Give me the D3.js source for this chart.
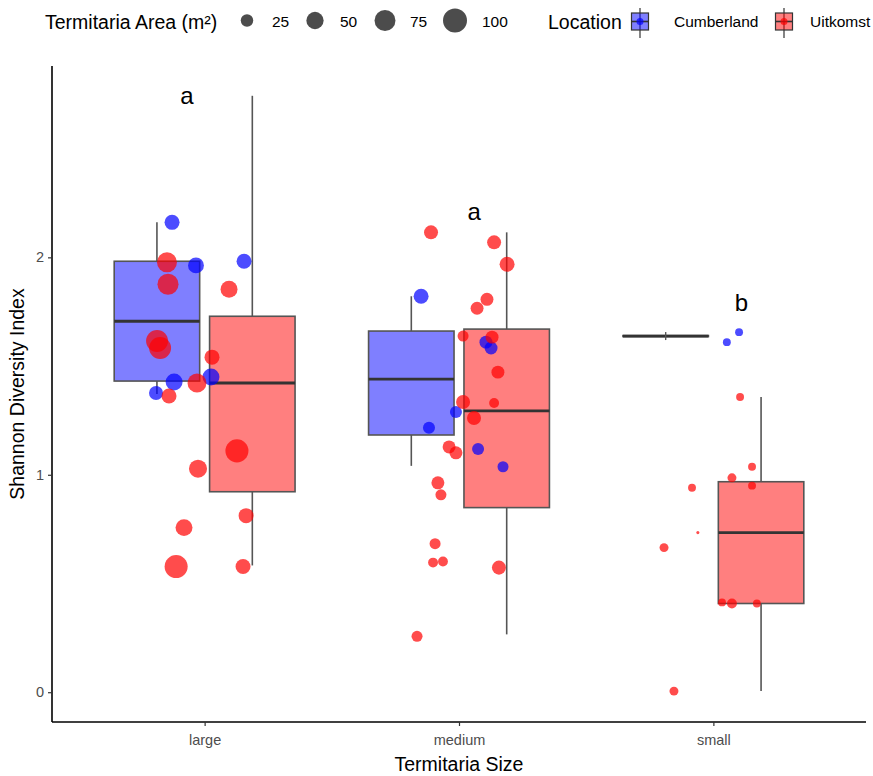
<!DOCTYPE html>
<html>
<head>
<meta charset="utf-8">
<script src="https://cdn.jsdelivr.net/npm/d3@7"></script>
<style>
  html, body { margin: 0; padding: 0; background: #fff; overflow: hidden; }
  svg { display: block; font-family: "Liberation Sans", Arial, sans-serif; }
</style>
</head>
<body>
<svg id="chart" width="873" height="776"></svg>
<script>
// Termitaria size classes and sampling locations
const categories = ["large", "medium", "small"];
const locations = ["Cumberland", "Uitkomst"];
const locationColors = ["#0000ff", "#ff0000"];

// Box summaries per location, in category order: [lower whisker, q1, median, q3, upper whisker]
const cumberlandBoxes = [
  [1.372, 1.431, 1.706, 1.982, 2.161],
  [1.041, 1.183, 1.440, 1.661, 1.821],
  [1.638, 1.638, 1.638, 1.638, 1.638]
];
const uitkomstBoxes = [
  [0.583, 0.922, 1.422, 1.729, 2.743],
  [0.266, 0.849, 1.294, 1.670, 2.115],
  [0.005, 0.408, 0.734, 0.968, 1.358]
];

// Individual termitaria: [size class, jitter (category units), Shannon index, area m²]
const cumberlandPoints = [
  ["large", -0.128, 2.161, 37], ["large", -0.034, 1.963, 42], ["large", 0.155, 1.982, 37],
  ["large", -0.120, 1.427, 48], ["large", 0.025, 1.450, 48], ["large", -0.191, 1.376, 32],
  ["medium", -0.149, 1.821, 37], ["medium", 0.106, 1.610, 27], ["medium", 0.126, 1.583, 27],
  ["medium", -0.012, 1.289, 23], ["medium", -0.118, 1.216, 23], ["medium", 0.075, 1.119, 23],
  ["medium", 0.173, 1.037, 19],
  ["small", 0.101, 1.656, 9], ["small", 0.053, 1.610, 9]
];
const uitkomstPoints = [
  ["large", -0.148, 1.977, 68], ["large", -0.144, 1.876, 76], ["large", -0.187, 1.615, 83],
  ["large", -0.175, 1.583, 83], ["large", 0.096, 1.853, 48], ["large", 0.029, 1.541, 37],
  ["large", -0.030, 1.422, 61], ["large", -0.140, 1.362, 37], ["large", 0.127, 1.110, 92],
  ["large", -0.026, 1.028, 55], ["large", 0.163, 0.812, 37], ["large", -0.081, 0.757, 48],
  ["large", -0.112, 0.578, 92], ["large", 0.151, 0.578, 37],
  ["medium", -0.110, 2.115, 32], ["medium", 0.138, 2.069, 32], ["medium", 0.189, 1.968, 37],
  ["medium", 0.110, 1.807, 27], ["medium", 0.071, 1.766, 27], ["medium", 0.016, 1.638, 19],
  ["medium", 0.130, 1.633, 27], ["medium", 0.153, 1.472, 27], ["medium", 0.016, 1.335, 32],
  ["medium", 0.138, 1.330, 15], ["medium", 0.059, 1.261, 32], ["medium", -0.039, 1.128, 27],
  ["medium", -0.012, 1.101, 27], ["medium", -0.083, 0.963, 27], ["medium", -0.071, 0.908, 19],
  ["medium", -0.094, 0.683, 19], ["medium", -0.102, 0.596, 15], ["medium", -0.063, 0.601, 15],
  ["medium", 0.157, 0.573, 32], ["medium", -0.165, 0.257, 19],
  ["small", 0.105, 1.358, 9], ["small", 0.152, 1.037, 9], ["small", 0.073, 0.986, 12],
  ["small", -0.084, 0.940, 9], ["small", 0.152, 0.950, 9], ["small", -0.061, 0.734, 0.8],
  ["small", -0.194, 0.665, 12], ["small", 0.034, 0.413, 9], ["small", 0.073, 0.408, 15],
  ["small", 0.171, 0.408, 9], ["small", -0.155, 0.005, 12]
];

// Significance letters above each size class
const groupLetters = ["a", "a", "b"];
const letterHeights = [2.706, 2.172, 1.752];
const letterShift = [-0.07, 0.06, 0.11];

const yTicks = [0, 1, 2];
const areaBreaks = [25, 50, 75, 100];

const svg = d3.select("#chart");
const plotLeft = 52, plotRight = 866, plotTop = 66, plotBottom = 722;

// Discrete x axis with 0.6-unit padding on each side
const xPos = d3.scaleLinear().domain([0.4, 3.6]).range([plotLeft, plotRight]);
const unit = xPos(1) - xPos(0);
const catX = c => xPos(categories.indexOf(c) + 1);
const y = d3.scaleLinear().domain([-0.137, 2.88]).range([plotBottom, plotTop]);
const r = d3.scalePow().exponent(0.5).domain([0, 100]).range([0.5, 12]);

const dodge = 0.1875;   // half of the dodge width, in category units
const boxHalf = 0.168;

// Boxes
[cumberlandBoxes, uitkomstBoxes].forEach((boxes, li) => {
  const shift = (li === 0 ? -dodge : dodge);
  const g = svg.append("g");
  boxes.forEach((b, ci) => {
    const cx = xPos(ci + 1 + shift);
    const x0 = xPos(ci + 1 + shift - boxHalf), x1 = xPos(ci + 1 + shift + boxHalf);
    g.append("line").attr("x1", cx).attr("x2", cx).attr("y1", y(b[3])).attr("y2", y(b[4]))
      .attr("stroke", "#555").attr("stroke-width", 1.6);
    g.append("line").attr("x1", cx).attr("x2", cx).attr("y1", y(b[1])).attr("y2", y(b[0]))
      .attr("stroke", "#555").attr("stroke-width", 1.6);
    const h = y(b[1]) - y(b[3]);
    g.append("rect").attr("x", x0).attr("width", x1 - x0)
      .attr("y", y(b[3]) - (h < 1 ? 0.5 : 0)).attr("height", Math.max(1, h))
      .attr("fill", locationColors[li]).attr("fill-opacity", 0.5)
      .attr("stroke", "#555").attr("stroke-width", 1.6);
    g.append("line").attr("x1", x0).attr("x2", x1).attr("y1", y(b[2])).attr("y2", y(b[2]))
      .attr("stroke", "#333").attr("stroke-width", 2.8);
    if (h < 1) {
      // collapsed box: whiskers shown as a short cap at the centre
      g.append("line").attr("x1", cx).attr("x2", cx).attr("y1", y(b[2]) - 4).attr("y2", y(b[2]) + 4)
        .attr("stroke", "#555").attr("stroke-width", 1.4);
    }
  });
});

// Jittered points sized by termitaria area
[cumberlandPoints, uitkomstPoints].forEach((pts, li) => {
  svg.append("g").selectAll("circle").data(pts).join("circle")
    .attr("cx", d => catX(d[0]) + d[1] * unit)
    .attr("cy", d => y(d[2]))
    .attr("r", d => r(d[3]))
    .attr("fill", locationColors[li])
    .attr("fill-opacity", 0.7);
});

// Letters
svg.append("g").selectAll("text").data(groupLetters).join("text")
  .attr("x", (d, i) => xPos(i + 1 + letterShift[i]))
  .attr("y", (d, i) => y(letterHeights[i]))
  .attr("text-anchor", "middle")
  .attr("font-size", 24)
  .attr("fill", "#000")
  .text(d => d);

// Axes
const xAxis = svg.append("g").attr("transform", `translate(0,${plotBottom})`)
  .call(d3.axisBottom(xPos).tickValues([1, 2, 3]).tickFormat(d => categories[d - 1]).tickSizeOuter(0).tickSize(4));
xAxis.select(".domain").attr("d", `M${plotLeft},0H${plotRight}`).attr("stroke", "#000").attr("stroke-width", 1.6);
xAxis.selectAll(".tick line").attr("stroke", "#333").attr("stroke-width", 1.2);
xAxis.selectAll(".tick text").attr("fill", "#4d4d4d").attr("font-size", 14.5).attr("dy", "1.1em")
  .attr("font-family", "Liberation Sans, Arial, sans-serif");

const yAxis = svg.append("g").attr("transform", `translate(${plotLeft},0)`)
  .call(d3.axisLeft(y).tickValues(yTicks).tickFormat(d3.format("d")).tickSizeOuter(0).tickSize(4));
yAxis.select(".domain").attr("d", `M0,${plotTop}V${plotBottom}`).attr("stroke", "#000").attr("stroke-width", 1.6);
yAxis.selectAll(".tick line").attr("stroke", "#333").attr("stroke-width", 1.2);
yAxis.selectAll(".tick text").attr("fill", "#4d4d4d").attr("font-size", 14.5).attr("x", -8)
  .attr("font-family", "Liberation Sans, Arial, sans-serif");

svg.append("text").attr("x", (plotLeft + plotRight) / 2).attr("y", 771)
  .attr("text-anchor", "middle").attr("font-size", 19.5).attr("fill", "#000")
  .text("Termitaria Size");
svg.append("text").attr("transform", `translate(24,${(plotTop + plotBottom) / 2}) rotate(-90)`)
  .attr("text-anchor", "middle").attr("font-size", 19.5).attr("fill", "#000")
  .text("Shannon Diversity Index");

// Legend: area sizes
const leg = svg.append("g");
leg.append("text").attr("x", 45).attr("y", 29).attr("font-size", 19.5).attr("fill", "#000")
  .text("Termitaria Area (m²)");
const sizeKeyX = [247, 315, 385, 455];
areaBreaks.forEach((a, i) => {
  leg.append("circle").attr("cx", sizeKeyX[i]).attr("cy", 20.5).attr("r", r(a))
    .attr("fill", "#000").attr("fill-opacity", 0.7);
  leg.append("text").attr("x", sizeKeyX[i] + 25 + (i === 3 ? 2 : 0)).attr("y", 27).attr("font-size", 15.5)
    .attr("fill", "#000").text(a);
});

// Legend: location keys
leg.append("text").attr("x", 548).attr("y", 29).attr("font-size", 19.5).attr("fill", "#000")
  .text("Location");
const locKeyX = [640, 784];
locations.forEach((loc, i) => {
  const kx = locKeyX[i];
  leg.append("line").attr("x1", kx).attr("x2", kx).attr("y1", 8).attr("y2", 38)
    .attr("stroke", "#333").attr("stroke-width", 1.2);
  leg.append("rect").attr("x", kx - 8.5).attr("y", 13).attr("width", 17).attr("height", 17)
    .attr("fill", locationColors[i]).attr("fill-opacity", 0.5)
    .attr("stroke", "#333").attr("stroke-width", 1.2);
  leg.append("line").attr("x1", kx - 8.5).attr("x2", kx + 8.5).attr("y1", 21.5).attr("y2", 21.5)
    .attr("stroke", "#333").attr("stroke-width", 1.6);
  leg.append("circle").attr("cx", kx).attr("cy", 21.5).attr("r", 3.5)
    .attr("fill", locationColors[i]).attr("fill-opacity", 0.7);
  leg.append("text").attr("x", kx + (i === 0 ? 34 : 26)).attr("y", 27).attr("font-size", 15.5)
    .attr("fill", "#000").text(loc);
});
</script>
</body>
</html>
